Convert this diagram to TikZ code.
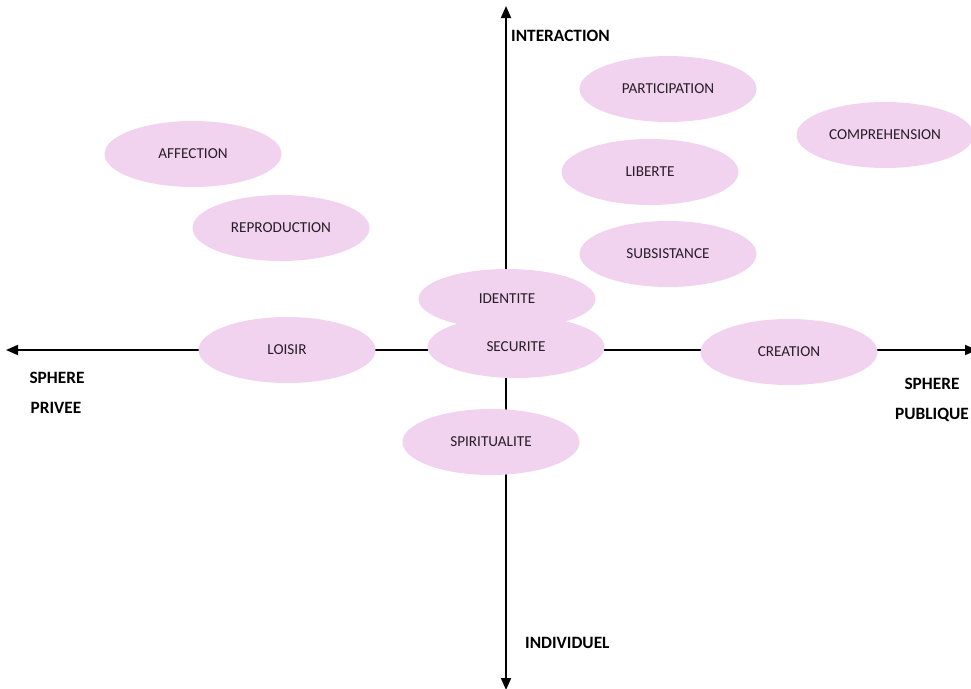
\documentclass[tikz,border=0pt]{standalone}
\usepackage{fontspec}
\setmainfont{Carlito}
\usetikzlibrary{shapes.geometric,arrows.meta}
\definecolor{bubble}{RGB}{241,210,239}
\definecolor{ink}{RGB}{40,30,40}
\tikzset{
  need/.style={ellipse, fill=bubble, draw=none, inner sep=0pt, minimum width=177pt, minimum height=66pt, text=ink, font=\fontsize{15.2}{17}\selectfont},
  axis/.style={line width=1.8pt, black, -{Triangle[length=12pt,width=10pt]}},
  axlabel/.style={font=\bfseries\fontsize{17.3}{19}\selectfont, text=black, inner sep=0pt}
}
\begin{document}
\begin{tikzpicture}[x=1pt,y=-1pt]
\useasboundingbox (0,0) rectangle (971,688);
\coordinate (o) at (506,350);
\coordinate (top) at (506,6);
\coordinate (bot) at (506,690);
\coordinate (left) at (6,350);
\coordinate (right) at (977,350);
\draw[axis] (o) -- (top);
\draw[axis] (o) -- (bot);
\draw[axis] (o) -- (left);
\draw[axis] (o) -- (right);

\node[need] (affection) at (193,154) {AFFECTION};
\node[need] (reproduction) at (281,228) {REPRODUCTION};
\node[need] (participation) at (668,89) {PARTICIPATION};
\node[need] (comprehension) at (885,135) {COMPREHENSION};
\node[need] (liberte) at (650,172) {LIBERTE};
\node[need] (subsistance) at (668,254) {SUBSISTANCE};
\node[need, minimum height=60pt] (identite) at (507,299) {IDENTITE};
\node[need, minimum height=62pt] (securite) at (516,347) {SECURITE};
\node[need] (loisir) at (287,350) {LOISIR};
\node[need] (creation) at (789,352) {CREATION};
\node[need] (spiritualite) at (491,442) {SPIRITUALITE};

\node[axlabel, anchor=west] (interaction) at (511,36) {INTERACTION};
\node[axlabel, anchor=west] (individuel) at (525,643) {INDIVIDUEL};
\node[axlabel] (sphere1) at (57,378) {SPHERE};
\node[axlabel] (privee) at (56,408) {PRIVEE};
\node[axlabel] (sphere2) at (932,384) {SPHERE};
\node[axlabel] (publique) at (932,415) {PUBLIQUE};
\end{tikzpicture}
\end{document}
